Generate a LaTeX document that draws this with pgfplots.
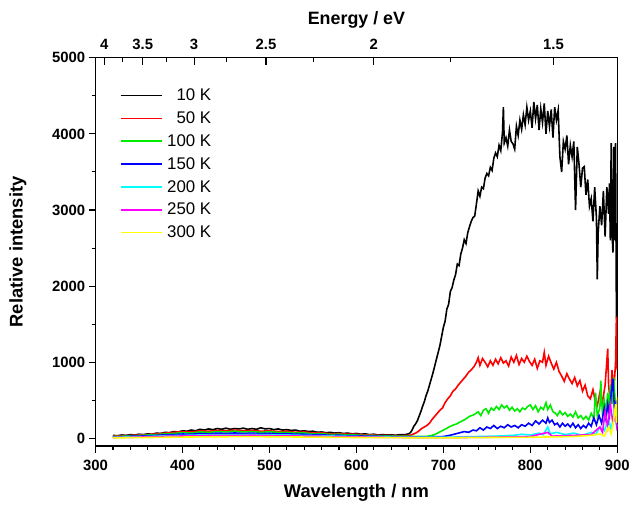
\documentclass[border=0pt]{standalone}
\usepackage{fontspec}
\setmainfont{Liberation Sans}
\usepackage{pgfplots}
\pgfplotsset{compat=1.18}
\definecolor{cblack}{rgb}{0,0,0}
\definecolor{cred}{rgb}{1,0,0}
\definecolor{cgreen}{rgb}{0,0.93,0}
\definecolor{cblue}{rgb}{0,0,1}
\definecolor{ccyan}{rgb}{0,1,1}
\definecolor{cmag}{rgb}{1,0,1}
\definecolor{cyel}{rgb}{1,1,0}
\begin{document}
\begin{tikzpicture}
\begin{axis}[
  at={(0,0)}, anchor=south west,
  scale only axis, width=524bp, height=390bp,
  xmin=300, xmax=900, ymin=-100, ymax=5000,
  xtick={300,400,...,900}, ytick={0,1000,...,5000},
  minor x tick num=4, minor y tick num=1,
  xtick pos=bottom, ytick pos=left, tick align=outside,
  major tick length=7bp, minor tick length=4bp,
  every tick/.style={black, line width=1.1bp},
  axis line style={line width=1.3bp},
  tick label style={font=\bfseries\fontsize{15}{17}\selectfont},
  xticklabel style={yshift=-4bp},
  /pgf/number format/assume math mode=true,
  /pgf/number format/1000 sep={},
  xlabel={Wavelength / nm}, ylabel={Relative intensity},
  label style={font=\bfseries\fontsize{18.5}{21}\selectfont},
  xlabel style={at={(axis description cs:0.5,-0.121)}, anchor=center},
  ylabel style={at={(axis description cs:-0.149,0.5)}, anchor=center},
  legend style={at={(axis description cs:0.046,0.925)}, anchor=north west, draw=none, fill=none,
    font=\fontsize{17}{19}\selectfont, row sep=5.6bp, inner sep=0pt},
  legend cell align=right,
  legend image code/.code={\draw[#1] plot coordinates {(0bp,0bp) (21bp,0bp) (42bp,0bp)};},
  legend style={nodes={inner xsep=4bp}},
  every axis plot/.append style={line width=1.6bp},
]
\addplot[cblack] table {
320 40
325 35
330 45
335 40
340 50
345 45
350 55
355 50
360 60
365 55
370 70
375 65
380 80
385 75
390 90
395 85
400 100
405 95
410 110
415 100
420 120
425 110
430 125
435 115
440 130
445 120
450 135
455 120
460 130
465 125
470 135
475 120
480 130
485 120
490 140
495 125
500 130
505 115
510 125
515 110
520 115
525 105
530 110
535 95
540 100
545 90
550 95
555 80
560 85
565 75
570 80
575 70
580 75
585 65
590 70
595 60
600 65
605 55
610 60
615 50
620 55
625 45
630 50
635 45
640 48
645 42
650 50
655 48
660 60
662 75
664 110
666 160
668 190
670 230
672 290
674 350
676 420
678 480
680 560
682 620
684 700
686 780
688 860
690 950
692 1040
694 1130
696 1220
698 1340
700 1460
702 1540
704 1700
706 1760
708 1930
710 1980
712 2080
714 2150
716 2290
718 2270
720 2420
722 2500
724 2610
726 2560
728 2700
730 2780
732 2850
734 2900
736 2920
738 3080
740 3250
742 3180
744 3300
746 3280
748 3420
750 3480
752 3450
754 3560
756 3520
758 3680
760 3750
762 3700
764 3850
766 3780
768 4020
769 4350
770 3880
772 3950
774 3840
776 4050
778 3900
780 3870
782 3800
784 4100
786 3980
788 4180
790 4060
792 4250
794 4120
796 4350
798 4180
800 4300
802 4080
804 4420
806 4200
808 4380
810 4050
812 4330
814 4150
816 4400
818 4000
820 4300
822 4100
824 4320
826 3950
828 4350
830 4180
832 4310
834 3700
836 3500
838 3900
840 3800
842 3980
844 3600
846 3850
848 3700
850 3900
852 3000
854 3830
856 3600
858 3300
860 3550
862 3570
864 3200
866 3400
868 3050
870 3150
872 2850
874 3300
876 2900
877 2090
878 2700
880 3050
882 2800
884 3250
886 2650
888 3300
890 2950
891 3350
892 2600
893 3880
894 2700
895 2440
896 3830
897 2600
898 3880
899 1600
900 1500
};
\addlegendentry{10 K}
\addplot[cred] table {
320 30
330 35
340 40
350 45
360 50
370 60
380 70
390 80
400 90
410 85
420 100
430 95
440 105
450 100
460 110
470 100
480 105
490 95
500 100
510 90
520 95
530 80
540 85
550 70
560 75
570 60
580 65
590 55
600 55
610 45
620 45
630 38
640 40
650 35
660 40
663 45
666 60
669 75
672 100
675 130
678 150
681 170
684 200
687 250
690 290
693 330
696 370
699 400
702 470
705 520
708 560
711 620
714 650
717 700
720 740
723 780
726 820
729 870
732 900
735 940
738 1000
740 1060
742 960
745 1050
748 1000
751 940
754 1020
757 960
760 1040
763 980
766 1060
769 990
772 1020
775 950
778 1070
781 1000
784 1090
787 970
790 1050
793 1000
796 1080
799 1010
802 960
805 1040
808 920
811 1020
814 1000
816 1130
818 960
821 1080
824 990
827 910
830 1000
833 880
836 820
839 750
842 850
845 780
848 720
851 800
854 690
857 760
860 620
863 700
866 560
869 520
872 640
875 470
877 430
880 600
883 480
886 700
889 1180
890 700
892 480
894 900
896 620
898 1000
899 1600
900 900
};
\addlegendentry{50 K}
\addplot[cgreen] table {
320 25
330 28
340 35
350 38
360 45
370 50
380 60
390 65
400 75
410 70
420 85
430 80
440 90
450 85
460 95
470 85
480 90
490 80
500 88
510 78
520 80
530 70
540 72
550 60
560 62
570 52
580 55
590 45
600 45
610 38
620 38
630 32
640 32
650 28
660 30
670 25
680 25
685 35
690 50
695 80
700 110
705 140
710 170
715 190
720 220
725 250
730 290
735 310
740 350
743 300
746 370
749 390
752 330
755 400
758 370
761 420
764 380
767 440
770 400
773 430
776 370
779 410
782 360
785 390
788 350
791 400
794 380
797 420
800 440
803 380
806 430
809 350
812 410
815 380
818 470
820 380
823 440
826 350
829 330
831 300
834 360
837 310
840 340
843 290
846 320
849 280
852 350
855 270
858 300
861 250
864 290
867 240
870 330
873 260
875 600
877 300
880 400
881 760
883 300
885 500
887 350
889 600
891 350
892 700
894 450
896 800
898 400
900 300
};
\addlegendentry{100 K}
\addplot[cblue] table {
320 20
330 22
340 28
350 30
360 35
370 40
380 48
390 50
400 58
410 55
420 65
430 60
440 70
450 65
460 72
470 65
480 70
490 62
500 68
510 60
520 62
530 55
540 55
550 48
560 48
570 40
580 42
590 35
600 35
610 30
620 30
630 25
640 25
650 22
660 22
670 20
680 20
690 22
700 25
705 35
709 45
714 60
719 75
724 90
729 80
734 110
738 100
742 140
746 110
750 150
754 130
758 170
762 130
766 160
770 140
774 180
778 150
782 170
786 140
790 180
794 160
798 200
802 170
806 230
810 190
814 240
818 200
820 270
822 210
825 240
828 180
831 200
834 150
837 200
840 160
843 190
846 150
849 200
852 140
855 180
858 130
861 170
864 140
867 200
870 160
873 270
876 180
879 300
882 200
885 400
887 250
889 450
891 300
893 600
895 780
897 300
899 500
900 200
};
\addlegendentry{150 K}
\addplot[ccyan] table {
320 15
340 20
360 25
380 35
400 40
420 45
440 50
460 48
480 52
500 48
520 45
540 40
560 35
580 30
600 25
620 22
640 18
660 15
680 15
700 15
720 20
740 25
760 30
780 40
790 55
800 45
810 70
815 50
820 150
823 60
830 80
840 50
850 70
860 40
870 80
875 50
880 150
885 100
890 250
893 120
896 300
900 150
};
\addlegendentry{200 K}
\addplot[cmag] table {
320 12
340 15
360 20
380 28
400 32
420 36
440 40
460 38
480 42
500 38
520 35
540 30
560 28
580 22
600 20
620 16
640 14
660 12
700 10
750 15
800 25
820 80
825 30
850 40
870 50
880 150
883 80
886 350
889 150
892 450
895 200
898 300
900 100
};
\addlegendentry{250 K}
\addplot[cyel] table {
320 8
360 12
400 18
440 22
480 24
520 20
560 16
600 12
640 10
700 8
800 15
850 25
870 40
880 60
885 30
890 150
893 60
896 250
898 450
899 200
900 550
};
\addlegendentry{300 K}
\end{axis}
\begin{axis}[
  at={(0,0)}, anchor=south west,
  scale only axis, width=524bp, height=390bp,
  xmin=300, xmax=900, ymin=0, ymax=1,
  axis x line*=top, axis y line=none,
  xtick={309.96,354.24,413.28,495.94,619.92,826.56},
  xticklabels={4,3.5,3,2.5,2,1.5},
  minor xtick={330.62,381.49,450.85,551.04,708.48},
  tick align=inside,
  major tick length=7bp, minor tick length=4bp,
  every tick/.style={black, line width=1.1bp},
  axis line style={line width=1.3bp},
  tick label style={font=\bfseries\fontsize{15}{17}\selectfont},
  xticklabel style={yshift=4.5bp},
  xlabel={Energy / eV},
  label style={font=\bfseries\fontsize{18}{21}\selectfont},
  xlabel style={at={(axis description cs:0.5,1.098)}, anchor=center},
]
\addplot[draw=none] coordinates {(300,0.5)};
\end{axis}
\path[use as bounding box] (-96bp,-56bp) rectangle (537bp,448bp);
\end{tikzpicture}
\end{document}
